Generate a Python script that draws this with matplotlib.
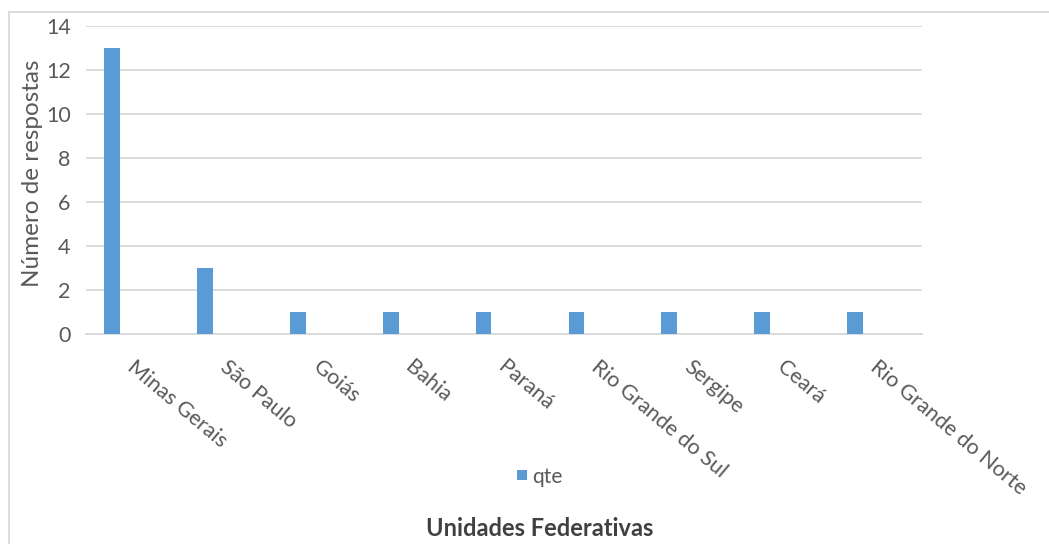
import matplotlib
matplotlib.use("Agg")
import matplotlib.pyplot as plt
import numpy as np
from matplotlib.patches import Rectangle
from matplotlib.lines import Line2D

categories = ["Minas Gerais", "São Paulo", "Goiás", "Bahia", "Paraná",
              "Rio Grande do Sul", "Sergipe", "Ceará", "Rio Grande do Norte"]
values = [13, 3, 1, 1, 1, 1, 1, 1, 1]
yticks = [0, 2, 4, 6, 8, 10, 12, 14]
series_name = "qte"

plt.rcParams['font.family'] = ['Lato', 'DejaVu Sans']
txt = '#595959'
barc = '#5B9BD5'
grid = '#D9D9D9'

fig = plt.figure(figsize=(10.49, 5.44), dpi=100)
ax = fig.add_axes([86/1049, 1-334/544, (922-86)/1049, (334-26)/544])

x = np.arange(len(categories))
ax.bar(x - 0.22, values, width=0.17, color=barc, zorder=3, label=series_name)
ax.set_xlim(-0.5, len(categories) - 0.5)
ax.set_ylim(0, 14)
ax.set_yticks(yticks)
ax.yaxis.grid(True, color=grid, linewidth=1.3, zorder=0)
for s in ['top', 'right', 'left']:
    ax.spines[s].set_visible(False)
ax.spines['bottom'].set_color(grid)
ax.spines['bottom'].set_linewidth(1.3)
ax.tick_params(axis='y', length=0, pad=11, labelsize=15.5, labelcolor=txt)
ax.tick_params(axis='x', length=0)
ax.set_xticks(x)
ax.set_xticklabels([])
for i, c in enumerate(categories):
    ax.annotate(c, xy=(i, 0), xycoords='data', xytext=(-2, -22), textcoords='offset points',
                rotation=-40, rotation_mode='anchor', ha='left', va='center',
                fontsize=15.5, color=txt)

fig.text(33/1049, 1-173/544, "Número de respostas", rotation=90, ha='center', va='center',
         fontsize=17.5, color=txt)

# legend
fig.patches.append(Rectangle((517/1049, 1-480/544), 10/1049, 10/544, transform=fig.transFigure,
                             facecolor=barc, edgecolor='none'))
fig.text(532/1049, 1-477/544, series_name, ha='left', va='center', fontsize=15, color=txt)

fig.text(540/1049, 1-528/544, "Unidades Federativas", ha='center', va='center',
         fontsize=17, fontweight='bold', color='#404040')

# chart border
fig.lines.append(Line2D([9/1049, 9/1049], [0, 1-12/544], transform=fig.transFigure, color=grid, linewidth=1.3))
fig.lines.append(Line2D([9/1049, 1], [1-12/544, 1-12/544], transform=fig.transFigure, color=grid, linewidth=1.3))

fig.savefig("out.png", dpi=100)
